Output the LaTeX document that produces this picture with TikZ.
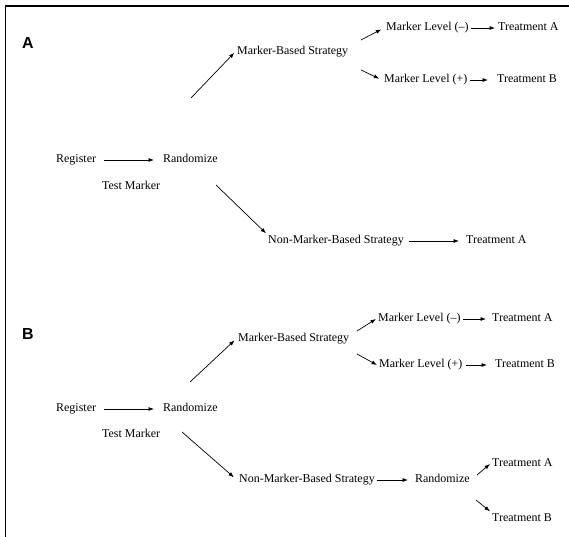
\documentclass[tikz,border=0pt]{standalone}
\usepackage{fontspec}
\setmainfont{Liberation Serif}
\setsansfont{Liberation Sans}
\usetikzlibrary{arrows.meta}

\begin{document}
\begin{tikzpicture}[x=1bp,y=-1bp,
    lbl/.style={anchor=west,inner sep=2bp,text height=8.5pt,text depth=2.5pt,font=\fontsize{12}{14}\selectfont},
    panel/.style={anchor=west,inner sep=0pt,font=\fontsize{16}{19}\selectfont\sffamily\bfseries},
    arr/.style={line width=0.7bp,-{Latex[length=5.5bp,width=4bp]}}]
    \useasboundingbox (0,0) rectangle (569,537);
    \draw[line width=1.6bp] (5.5,537) -- (5.5,6) -- (569,6);

    % panel A
    \node[panel] (A) at (22,43) {A};
    \node[lbl] (regA) at (54,160) {Register};
    \node[lbl] (ranA) at (161,160) {Randomize};
    \node[lbl] (tmA) at (100,187) {Test Marker};
    \node[lbl] (mbsA) at (235,52) {Marker-Based Strategy};
    \node[lbl] (mlmA) at (384,28) {Marker Level (--)};
    \node[lbl] (taA1) at (496,28) {Treatment A};
    \node[lbl] (mlpA) at (382,80) {Marker Level (+)};
    \node[lbl] (tbA) at (495,80) {Treatment B};
    \node[lbl] (nmbsA) at (266,241) {Non-Marker-Based Strategy};
    \node[lbl] (taA2) at (464,241) {Treatment A};
    \coordinate (upA) at (191,98);
    \coordinate (dnA) at (216,185);
    \coordinate (mA1) at (361,40);
    \coordinate (mA2) at (361,70);

    \draw[arr,shorten <=6bp,shorten >=7bp] (regA.east) -- (ranA.west);
    \draw[arr,shorten >=1bp] (upA) -- (mbsA.west);
    \draw[arr] (dnA) -- (nmbsA.north west);
    \draw[arr,shorten >=3bp] (mA1) -- (mlmA.west);
    \draw[arr,shorten >=3bp] (mA2) -- (mlpA.west);
    \draw[arr,shorten >=1bp] (mlmA.east) -- (taA1.west);
    \draw[arr,shorten <=1bp,shorten >=7bp] (mlpA.east) -- (tbA.west);
    \draw[arr,shorten <=3bp,shorten >=5bp] (nmbsA.east) -- (taA2.west);

    % panel B
    \node[panel] (B) at (22,334) {B};
    \node[lbl] (regB) at (54,409) {Register};
    \node[lbl] (ranB) at (161,409) {Randomize};
    \node[lbl] (tmB) at (100,435) {Test Marker};
    \node[lbl] (mbsB) at (236,339) {Marker-Based Strategy};
    \node[lbl] (mlmB) at (376,319) {Marker Level (--)};
    \node[lbl] (taB1) at (490,319) {Treatment A};
    \node[lbl] (mlpB) at (377,365) {Marker Level (+)};
    \node[lbl] (tbB) at (493,365) {Treatment B};
    \node[lbl] (nmbsB) at (237,480) {Non-Marker-Based Strategy};
    \node[lbl] (ranB2) at (413,480) {Randomize};
    \node[lbl] (taB2) at (490,464) {Treatment A};
    \node[lbl] (tbB2) at (490,519) {Treatment B};
    \coordinate (upB) at (190,382);
    \coordinate (dnB) at (182,432);
    \coordinate (mB1) at (357,331);
    \coordinate (mB2) at (357,354);
    \coordinate (rB1) at (477,475);
    \coordinate (rB2) at (476,500);

    \draw[arr,shorten <=6bp,shorten >=7bp] (regB.east) -- (ranB.west);
    \draw[arr,shorten >=2bp] (upB) -- (mbsB.west);
    \draw[arr,shorten >=4bp] (dnB) -- (nmbsB.west);
    \draw[arr] (mB1) -- (mlmB.west);
    \draw[arr] (mB2) -- (mlpB.west);
    \draw[arr,shorten >=4bp] (mlmB.east) -- (taB1.west);
    \draw[arr,shorten <=1.5bp,shorten >=6bp] (mlpB.east) -- (tbB.west);
    \draw[arr,shorten >=5bp] (nmbsB.east) -- (ranB2.west);
    \draw[arr] (rB1) -- (taB2.west);
    \draw[arr] (rB2) -- (tbB2.north west);
\end{tikzpicture}
\end{document}
